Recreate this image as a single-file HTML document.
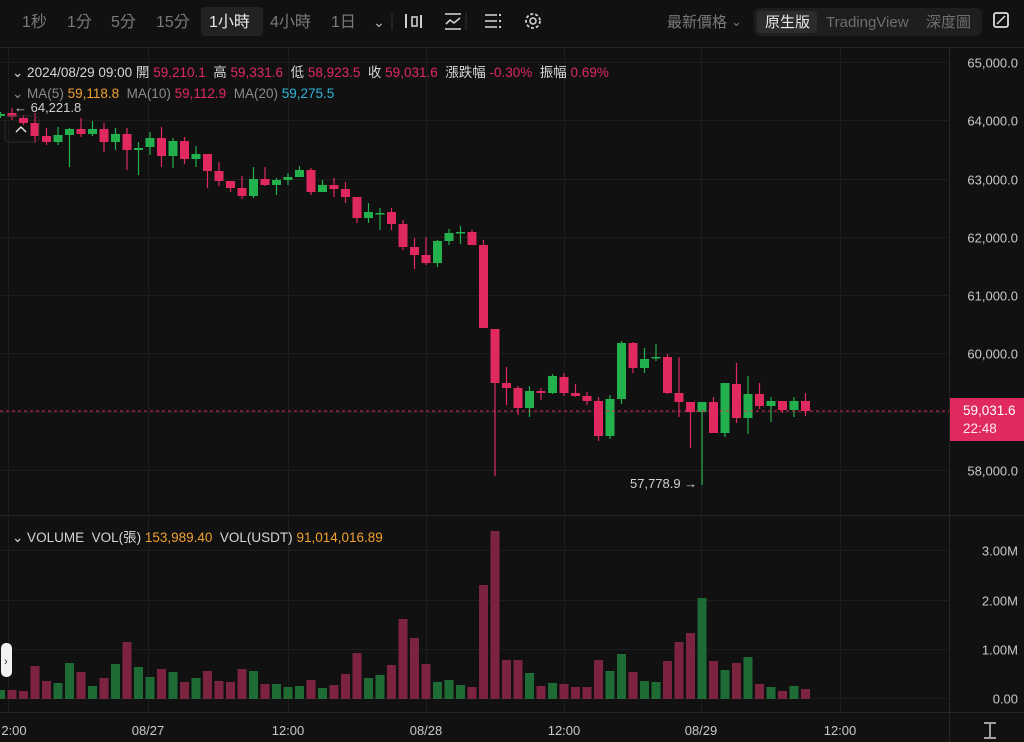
<!DOCTYPE html>
<html><head><meta charset="utf-8">
<style>
html,body{margin:0;padding:0;background:#111111;}
body{width:1024px;height:742px;overflow:hidden;position:relative;font-family:"Liberation Sans","Noto Sans CJK TC",sans-serif;}
.t{position:absolute;white-space:nowrap;}
</style></head><body>
<svg id="s" width="1024" height="742" style="position:absolute;left:0;top:0" xmlns="http://www.w3.org/2000/svg"></svg>
<script>
var svg=document.getElementById('s');var h='';
function R(x,y,w,hh,c,extra){h+='<rect x="'+x+'" y="'+y+'" width="'+w+'" height="'+hh+'" fill="'+c+'" '+(extra||'')+'/>';}
function L(x1,y1,x2,y2,c,w,extra){h+='<line x1="'+x1+'" y1="'+y1+'" x2="'+x2+'" y2="'+y2+'" stroke="'+c+'" stroke-width="'+(w||1)+'" '+(extra||'')+'/>';}
function T(x,y,s,c,sz,anchor){h+='<text x="'+x+'" y="'+y+'" fill="'+c+'" font-size="'+(sz||13)+'" text-anchor="'+(anchor||'start')+'" font-family="Liberation Sans, Noto Sans CJK TC, sans-serif">'+s+'</text>';}
// toolbar
R(0,0,1024,47,'#111111');
L(0,47.5,1024,47.5,'#262626');
R(201,7,62,29,'#222222','rx="4"');
var tb=[['1秒',22],['1分',67],['5分',111],['15分',156],['1小時',209],['4小時',270],['1日',331]];
tb.forEach(function(a,i){T(a[1],27,a[0],i==4?'#e8e8e8':'#7a7a7a',16);});
T(373,27,'⌄','#bbbbbb',14);
// icons
R(405,14,2,14,'#cfcfcf');R(412,17,5,9,'none','stroke="#cfcfcf" stroke-width="1.6"');R(420,15,2,13,'#cfcfcf');
L(392,13,392,30,'#333');L(466,13,466,30,'#333');
L(445,14,461,14,'#cfcfcf',1.6);L(445,29,461,29,'#cfcfcf',1.6);h+='<polyline points="446,24 450,20 454,23 460,18" fill="none" stroke="#cfcfcf" stroke-width="1.6"/>';
L(485,15,497,15,'#cfcfcf',1.6);L(485,21,497,21,'#cfcfcf',1.6);L(485,27,497,27,'#cfcfcf',1.6);R(499,14,2,2,'#cfcfcf');R(499,20,2,2,'#cfcfcf');R(499,26,2,2,'#cfcfcf');
h+='<circle cx="533" cy="21" r="7" fill="none" stroke="#cfcfcf" stroke-width="1.8" stroke-dasharray="3 2"/><circle cx="533" cy="21" r="3" fill="none" stroke="#cfcfcf" stroke-width="1.6"/>';
T(667,27,'最新價格','#7a7a7a',15);T(731,26,'⌄','#7a7a7a',13);
R(754,8,228,28,'#1e1e1e','rx="6"');R(757,11,60,22,'#2c2c2c','rx="4"');
T(765,27,'原生版','#e8e8e8',15);T(826,27,'TradingView','#6e6e6e',15);T(926,27,'深度圖','#6e6e6e',15);
R(994,13,14,14,'none','stroke="#dddddd" stroke-width="1.8" rx="2"');L(997,24,1005,16,'#ddd',1.5);
// grid
var vx=[8,148,288,426,564,701,840];
vx.forEach(function(x){L(x+.5,48,x+.5,712,'#1d1d1d');});
function py(p){return 62+(65000-p)*0.05829;}
for(var p=58000;p<=65000;p+=1000){var y=Math.round(py(p))+.5;L(0,y,949,y,'#1d1d1d');T(1018,y+5,(p/1000).toFixed(0).replace(/(\d\d)$/,'$1')+',000.0','#c8c8c8',13,'end');}
L(0,515.5,1024,515.5,'#262626');
L(949.5,48,949.5,742,'#262626');
L(0,712.5,1024,712.5,'#262626');
[[0,698],[1,649],[2,600],[3,550]].forEach(function(v){var y=v[1]+.5;L(0,y,949,y,'#1d1d1d');T(1018,y+5,v[0].toFixed(2)+(v[0]?'M':''),'#c8c8c8',13,'end');});
// candles: [bodyTop,bodyBot,wickTop,wickBot,green]
var C=[[114,116,112,118,1],[113,117,108,120,0],[118,123,115,125,0],[123,136,113,143,0],[136,142,128,145,0],[135,142,127,145,1],[129,135,128,167,1],[129,134,118,137,0],[129,134,121,136,1],[129,142,123,152,0],[134,142,128,150,1],[134,150,128,170,0],[148,150,142,175,1],[138,147,132,155,1],[138,156,127,167,0],[141,156,138,168,1],[141,159,137,164,0],[154,159,146,167,1],[154,171,154,188,0],[171,181,162,186,0],[181,188,181,192,0],[188,196,176,199,0],[179,196,167,198,1],[179,185,167,186,0],[180,185,178,195,1],[177,180,173,185,1],[170,177,166,177,1],[170,192,168,195,0],[185,192,180,192,1],[185,189,178,197,0],[189,197,182,203,0],[197,218,197,223,0],[212,218,203,223,1],[213,214,208,230,1],[212,224,208,230,0],[224,247,220,250,0],[247,255,238,269,0],[255,263,237,265,0],[241,263,240,267,1],[233,241,229,245,1],[232,233,226,244,1],[232,245,230,245,0],[245,328,240,328,0],[329,383,329,476,0],[383,388,367,405,0],[388,408,386,415,0],[391,408,386,417,1],[391,393,388,400,0],[376,393,374,394,1],[377,393,373,396,0],[393,396,384,397,0],[396,401,392,405,0],[401,436,397,441,0],[399,436,395,439,1],[343,399,341,404,1],[343,368,342,373,0],[359,368,348,373,1],[357,358,344,361,1],[357,393,354,394,0],[393,402,357,417,0],[402,412,402,448,0],[402,412,402,485,1],[402,433,397,433,0],[383,433,383,437,1],[384,418,363,423,0],[394,418,376,434,1],[394,406,383,409,0],[401,406,397,422,1],[401,410,401,413,0],[401,410,397,417,1],[401,411,393,416,0]];
var V=[690,690,691,666,681,683,663,672,686,678,664,642,667,677,669,672,682,678,671,681,682,669,671,684,684,687,686,680,688,685,674,653,678,675,665,619,638,664,682,680,685,687,585,531,660,660,673,686,683,684,687,687,660,671,654,672,681,682,661,642,633,598,661,670,663,657,684,687,691,686,689];
C.forEach(function(c,i){var x=0.5+11.5*i;var col=c[4]?'#23b14d':'#e0295f';
 L(x,c[2],x,c[3],col,1.2);R(x-4.5,c[0],9,Math.max(1.5,c[1]-c[0]),col);
 var vc=c[4]?'#1f6b35':'#7c2340';R(x-4.5,V[i],9,699-V[i],vc);});
// current price line
L(0,411,949,411,'#e0295f',1,'stroke-dasharray="3 3"');
R(950,398,74,43,'#e0295f');
T(963,415,'59,031.6','#ffffff',13.5);T(963,433,'22:48','#ffe8ee',13.5);
// annotations
T(14,112,'← 64,221.8','#d0d0d0',13);
T(630,488,'57,778.9 →','#d0d0d0',13);
R(5,116,34,26,'none','stroke="#2a2a2a" rx="4"');h+='<polyline points="16,132 21,127 26,132" fill="none" stroke="#ddd" stroke-width="1.5"/>';
// left handle
R(1,643,11,34,'#f2f2f2','rx="5"');T(4,665,'›','#333',11);
// time axis
[['2:00',14],['08/27',148],['12:00',288],['08/28',426],['12:00',564],['08/29',701],['12:00',840]].forEach(function(a){T(a[1],735,a[0],'#c8c8c8',13,'middle');});
L(984,723,996,723,'#ddd',1.4);L(984,738,996,738,'#ddd',1.4);L(990,724,990,737,'#ddd',1.4);
svg.innerHTML=h;
</script>
<div class="t" style="left:12px;top:61px;font-size:13.5px;color:#d6d6d6">⌄ 2024/08/29 09:00 <span style="color:#d6d6d6">開</span> <span style="color:#e0295f">59,210.1</span> &nbsp;高 <span style="color:#e0295f">59,331.6</span> &nbsp;低 <span style="color:#e0295f">58,923.5</span> &nbsp;收 <span style="color:#e0295f">59,031.6</span> &nbsp;漲跌幅 <span style="color:#e0295f">-0.30%</span> &nbsp;振幅 <span style="color:#e0295f">0.69%</span></div>
<div class="t" style="left:12px;top:86px;font-size:13.5px;color:#8a8a8a">⌄ MA(5) <span style="color:#f0a030">59,118.8</span> &nbsp;MA(10) <span style="color:#e0295f">59,112.9</span> &nbsp;MA(20) <span style="color:#2bb5d8">59,275.5</span></div>
<div class="t" style="left:12px;top:526px;font-size:13.5px;color:#d6d6d6">⌄ VOLUME &nbsp;VOL(張) <span style="color:#f0a030">153,989.40</span> &nbsp;VOL(USDT) <span style="color:#f0a030">91,014,016.89</span></div>
</body></html>
